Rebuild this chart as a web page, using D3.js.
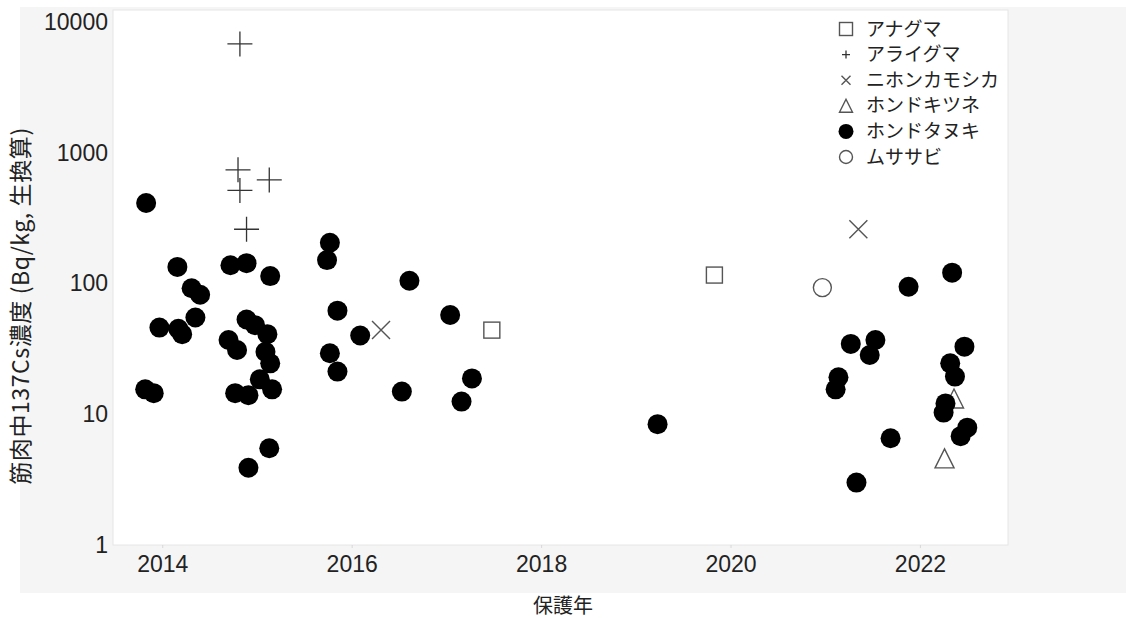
<!DOCTYPE html>
<html>
<head>
<meta charset="utf-8">
<script src="https://cdn.jsdelivr.net/npm/d3@7"></script>
<style>
  html, body { margin: 0; padding: 0; background: #ffffff; }
  svg { display: block; }
  text { font-family: "Liberation Sans", "Noto Sans CJK JP", Arial, sans-serif; fill: #222; }
  .jp { font-family: "Noto Sans CJK JP", "Liberation Sans", sans-serif; }
</style>
</head>
<body>
<svg id="chart" width="1126" height="619"></svg>
<script>
// Species (legend order)
const species = ["アナグマ", "アライグマ", "ニホンカモシカ", "ホンドキツネ", "ホンドタヌキ", "ムササビ"];

// Muscle 137Cs concentration (Bq/kg, fresh weight) by capture date (decimal year)
const anagumaYear  = [2017.48, 2019.83];
const anagumaValue = [44, 116];

const araigumaYear  = [2014.82, 2014.80, 2014.82, 2015.13, 2014.89];
const araigumaValue = [6800, 740, 515, 620, 260];

const kamoshikaYear  = [2016.31, 2021.35];
const kamoshikaValue = [44, 260];

const kitsuneYear  = [2022.36, 2022.26];
const kitsuneValue = [13.2, 4.6];

const tanukiYear = [
  2013.83, 2014.16, 2014.31, 2014.40, 2014.35, 2013.97, 2014.17, 2014.21,
  2013.82, 2013.91, 2014.72, 2014.89, 2015.14, 2014.89, 2014.98, 2015.11,
  2014.70, 2014.79, 2015.09, 2015.14, 2015.03, 2015.16, 2014.77, 2014.91,
  2015.13, 2014.91,
  2015.77, 2015.74, 2015.85, 2016.09, 2015.77, 2015.85, 2016.61, 2016.53,
  2017.04, 2017.27, 2017.16,
  2019.23,
  2021.88, 2022.34, 2021.27, 2021.53, 2021.47, 2021.14, 2021.11, 2021.69,
  2021.33, 2022.47, 2022.32, 2022.37, 2022.27, 2022.25, 2022.50, 2022.43
];
const tanukiValue = [
  413, 134, 92, 82, 55, 46, 45, 41,
  15.5, 14.5, 138, 143, 114, 53, 48, 41,
  37, 31, 30, 24.5, 18.5, 15.5, 14.5, 14.0,
  5.5, 3.9,
  205, 151, 62, 40, 29.3, 21.2, 105, 14.9,
  57.4, 18.8, 12.5,
  8.4,
  94.5, 121, 34.5, 37, 28.4, 19.2, 15.5, 6.55,
  3.0, 32.9, 24.5, 19.4, 12.1, 10.3, 7.9, 6.8
];

const musasabiYear  = [2020.97];
const musasabiValue = [93];

// Axis ticks
const xTicks = [2014, 2016, 2018, 2020, 2022];
const yTicks = [1, 10, 100, 1000, 10000];
const xTitle = "保護年";
const yTitle = "筋肉中137Cs濃度 (Bq/kg, 生換算)";

const svg = d3.select("#chart");
const plot = { left: 113, right: 1008, top: 10, bottom: 545 };

const x = d3.scaleLinear().domain([2013.48, 2022.93]).range([plot.left, plot.right]);
const y = d3.scaleLog().domain([1, 10000]).range([plot.bottom, 22]);

// Grey panel behind the plot
svg.append("rect")
  .attr("x", 20).attr("y", 7)
  .attr("width", 1106).attr("height", 586)
  .attr("fill", "#f5f5f5");

// White plot area
svg.append("rect")
  .attr("x", plot.left).attr("y", plot.top)
  .attr("width", plot.right - plot.left).attr("height", plot.bottom - plot.top)
  .attr("fill", "#ffffff")
  .attr("stroke", "#e6e6e6").attr("stroke-width", 1);

// Axes
const xAxis = d3.axisBottom(x).tickValues(xTicks).tickFormat(d3.format("d"))
  .tickSize(3).tickPadding(8);
const gx = svg.append("g").attr("transform", `translate(0,${plot.bottom})`).call(xAxis);
gx.select(".domain").remove();
gx.selectAll(".tick line").attr("stroke", "#d8d8d8");
gx.selectAll(".tick text").attr("font-size", 23).attr("fill", "#222")
  .attr("font-family", "Liberation Sans, Arial, sans-serif");

const yAxis = d3.axisLeft(y).tickValues(yTicks).tickFormat(d3.format("d"))
  .tickSize(0).tickPadding(5);
const gy = svg.append("g").attr("transform", `translate(${plot.left},0)`).call(yAxis);
gy.select(".domain").remove();
gy.selectAll(".tick text").attr("font-size", 23).attr("fill", "#222")
  .attr("font-family", "Liberation Sans, Arial, sans-serif");

// Axis titles
svg.append("text")
  .attr("class", "jp")
  .attr("x", 563).attr("y", 613)
  .attr("text-anchor", "middle")
  .attr("font-size", 20)
  .text(xTitle);

svg.append("text")
  .attr("class", "jp")
  .attr("transform", "translate(21,306) rotate(-90)")
  .attr("text-anchor", "middle")
  .attr("dy", "0.35em")
  .attr("font-size", 23)
  .attr("letter-spacing", 0.6)
  .text(yTitle);

// Marker drawers
const markStroke = "#555";
const symbolDrawers = {
  "アナグマ": (g, s) => g.append("rect")
      .attr("x", -s / 2).attr("y", -s / 2).attr("width", s).attr("height", s)
      .attr("fill", "none").attr("stroke", markStroke).attr("stroke-width", 1.4),
  "アライグマ": (g, s) => g.append("path")
      .attr("d", `M${-s / 2},0H${s / 2}M0,${-s / 2}V${s / 2}`)
      .attr("fill", "none").attr("stroke", "#333").attr("stroke-width", 1.3),
  "ニホンカモシカ": (g, s) => g.append("path")
      .attr("d", `M${-s / 2},${-s / 2}L${s / 2},${s / 2}M${-s / 2},${s / 2}L${s / 2},${-s / 2}`)
      .attr("fill", "none").attr("stroke", markStroke).attr("stroke-width", 1.4),
  "ホンドキツネ": (g, s) => g.append("path")
      .attr("d", `M0,${-s / 2}L${s / 2},${s / 2}L${-s / 2},${s / 2}Z`)
      .attr("fill", "none").attr("stroke", markStroke).attr("stroke-width", 1.4),
  "ホンドタヌキ": (g, s) => g.append("circle")
      .attr("r", s / 2).attr("fill", "#000"),
  "ムササビ": (g, s) => g.append("circle")
      .attr("r", s / 2).attr("fill", "none").attr("stroke", markStroke).attr("stroke-width", 1.4)
};

const plotSizes = {
  "アナグマ": 16, "アライグマ": 25, "ニホンカモシカ": 18,
  "ホンドキツネ": 19, "ホンドタヌキ": 20, "ムササビ": 18
};
const legendSizes = {
  "アナグマ": 13, "アライグマ": 8, "ニホンカモシカ": 9,
  "ホンドキツネ": 13, "ホンドタヌキ": 15, "ムササビ": 13
};

const seriesData = [
  ["アナグマ", anagumaYear, anagumaValue],
  ["アライグマ", araigumaYear, araigumaValue],
  ["ニホンカモシカ", kamoshikaYear, kamoshikaValue],
  ["ホンドキツネ", kitsuneYear, kitsuneValue],
  ["ホンドタヌキ", tanukiYear, tanukiValue],
  ["ムササビ", musasabiYear, musasabiValue]
];

const marks = svg.append("g");
seriesData.forEach(([name, years, values]) => {
  years.forEach((yr, i) => {
    const g = marks.append("g")
      .attr("transform", `translate(${x(yr)},${y(values[i])})`);
    symbolDrawers[name](g, plotSizes[name]);
  });
});

// Legend
const legend = svg.append("g").attr("transform", "translate(846,29)");
species.forEach((name, i) => {
  const row = legend.append("g").attr("transform", `translate(0,${i * 25.6})`);
  symbolDrawers[name](row, legendSizes[name]);
  row.append("text")
    .attr("class", "jp")
    .attr("x", 20).attr("y", 0)
    .attr("dy", "0.35em")
    .attr("font-size", 19)
    .text(name);
});
</script>
</body>
</html>
